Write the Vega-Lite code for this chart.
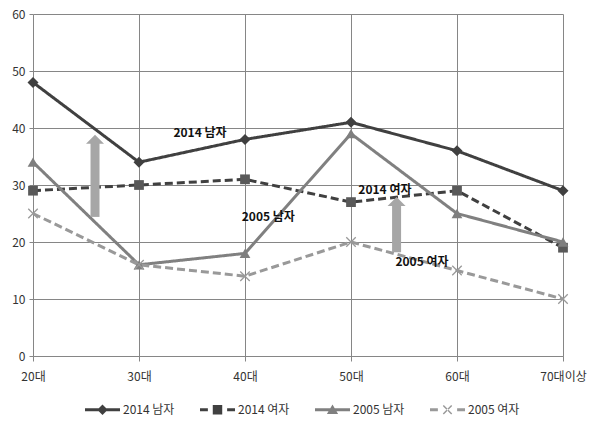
{
  "$schema": "https://vega.github.io/schema/vega-lite/v6.json",
  "width": 530,
  "height": 342,
  "autosize": "none",
  "padding": {"left": 33, "top": 14, "right": 41, "bottom": 74},
  "background": "white",
  "config": {
    "font": "Noto Sans CJK KR",
    "view": {"stroke": null},
    "axis": {
      "gridColor": "#868686",
      "gridWidth": 1,
      "gridOpacity": 1,
      "domainColor": "#868686",
      "tickColor": "#868686",
      "labelColor": "#333333",
      "labelFontSize": 12,
      "labelFlush": false,
      "title": null
    }
  },
  "datasets": {
    "main": [
      {"i": 0, "series": "2014 남자", "v": 48},
      {"i": 1, "series": "2014 남자", "v": 34},
      {"i": 2, "series": "2014 남자", "v": 38},
      {"i": 3, "series": "2014 남자", "v": 41},
      {"i": 4, "series": "2014 남자", "v": 36},
      {"i": 5, "series": "2014 남자", "v": 29},
      {"i": 0, "series": "2014 여자", "v": 29},
      {"i": 1, "series": "2014 여자", "v": 30},
      {"i": 2, "series": "2014 여자", "v": 31},
      {"i": 3, "series": "2014 여자", "v": 27},
      {"i": 4, "series": "2014 여자", "v": 29},
      {"i": 5, "series": "2014 여자", "v": 19},
      {"i": 0, "series": "2005 남자", "v": 34},
      {"i": 1, "series": "2005 남자", "v": 16},
      {"i": 2, "series": "2005 남자", "v": 18},
      {"i": 3, "series": "2005 남자", "v": 39},
      {"i": 4, "series": "2005 남자", "v": 25},
      {"i": 5, "series": "2005 남자", "v": 20},
      {"i": 0, "series": "2005 여자", "v": 25},
      {"i": 1, "series": "2005 여자", "v": 16},
      {"i": 2, "series": "2005 여자", "v": 14},
      {"i": 3, "series": "2005 여자", "v": 20},
      {"i": 4, "series": "2005 여자", "v": 15},
      {"i": 5, "series": "2005 여자", "v": 10}
    ],
    "shafts": [
      {"i": 0.585, "v": 37.5, "vb": 24.4},
      {"i": 3.43, "v": 26.6, "vb": 18.2}
    ],
    "heads": [
      {"i": 0.585, "v": 38.8},
      {"i": 3.43, "v": 27.9}
    ],
    "notes": [
      {"i": 1.575, "v": 39.1, "label": "2014 남자"},
      {"i": 3.32, "v": 29.1, "label": "2014 여자"},
      {"i": 2.22, "v": 24.4, "label": "2005 남자"},
      {"i": 3.67, "v": 16.5, "label": "2005 여자"}
    ]
  },
  "encoding": {
    "x": {
      "field": "i",
      "type": "quantitative",
      "scale": {"domain": [0, 5], "nice": false, "zero": false},
      "axis": {
        "values": [0, 1, 2, 3, 4, 5],
        "labelExpr": "['20대','30대','40대','50대','60대','70대이상'][datum.value]",
        "labelColor": "#333333",
        "tickSize": 5,
        "labelPadding": 10,
        "grid": true
      }
    },
    "y": {
      "field": "v",
      "type": "quantitative",
      "scale": {"domain": [0, 60], "nice": false},
      "axis": {
        "values": [0, 10, 20, 30, 40, 50, 60],
        "labelColor": "#333333",
        "tickSize": 4,
        "labelPadding": 4,
        "domain": false,
        "grid": true
      }
    }
  },
  "layer": [
    {
      "data": {"name": "main"},
      "mark": {"type": "line", "strokeWidth": 3},
      "encoding": {
        "color": {
          "field": "series",
          "type": "nominal",
          "scale": {
            "domain": ["2014 남자", "2014 여자", "2005 남자", "2005 여자"],
            "range": ["#404040", "#404040", "#808080", "#999999"]
          },
          "legend": {
            "title": null,
            "orient": "none",
            "legendX": 52,
            "legendY": 378,
            "direction": "horizontal",
            "columns": 4,
            "columnPadding": 25,
            "symbolSize": 1225,
            "labelFontSize": 12,
            "labelColor": "#333333",
            "labelOffset": 3,
            "encode": {
              "symbols": {
                "update": {
                  "shape": {"signal": "datum.value === '2014 남자' ? 'M-1,-0.08L1,-0.08L1,0.08L-1,0.08ZM0,-0.3L0.3,0L0,0.3L-0.3,0Z' : datum.value === '2014 여자' ? 'M-1,-0.08L-0.55,-0.08L-0.55,0.08L-1,0.08ZM0.55,-0.08L1,-0.08L1,0.08L0.55,0.08ZM-0.27,-0.27L0.27,-0.27L0.27,0.27L-0.27,0.27Z' : datum.value === '2005 남자' ? 'M-1,-0.08L1,-0.08L1,0.08L-1,0.08ZM0,-0.3L0.32,0.24L-0.32,0.24Z' : 'M-1,-0.08L-0.55,-0.08L-0.55,0.08L-1,0.08ZM0.55,-0.08L1,-0.08L1,0.08L0.55,0.08ZM-0.27,-0.21L-0.21,-0.27L0.27,0.21L0.21,0.27ZM-0.27,0.21L-0.21,0.27L0.27,-0.21L0.21,-0.27Z'"},
                  "fill": {"signal": "datum.value === '2005 남자' ? '#808080' : datum.value === '2005 여자' ? '#999999' : '#404040'"},
                  "stroke": {"value": "transparent"},
                  "strokeWidth": {"value": 0},
                  "opacity": {"value": 1}
                }
              }
            }
          }
        },
        "strokeDash": {
          "field": "series",
          "type": "nominal",
          "scale": {
            "domain": ["2014 남자", "2014 여자", "2005 남자", "2005 여자"],
            "range": [[1, 0], [8, 4], [1, 0], [8, 4]]
          },
          "legend": null
        }
      }
    },
    {
      "data": {"name": "main"},
      "transform": [{"filter": "datum.series === '2014 남자'"}],
      "mark": {"type": "point", "shape": "diamond", "size": 121, "filled": true, "color": "#404040", "opacity": 1}
    },
    {
      "data": {"name": "main"},
      "transform": [{"filter": "datum.series === '2014 여자'"}],
      "mark": {"type": "point", "shape": "square", "size": 95, "filled": true, "color": "#595959", "opacity": 1}
    },
    {
      "data": {"name": "main"},
      "transform": [{"filter": "datum.series === '2005 남자'"}],
      "mark": {"type": "point", "shape": "triangle-up", "size": 115, "filled": true, "color": "#7f7f7f", "opacity": 1}
    },
    {
      "data": {"name": "main"},
      "transform": [{"filter": "datum.series === '2005 여자'"}],
      "mark": {"type": "point", "shape": "M-1,-1L1,1M-1,1L1,-1", "size": 90, "filled": false, "color": "#999999", "strokeWidth": 1.3, "opacity": 1}
    },
    {
      "data": {"name": "shafts"},
      "mark": {"type": "rule", "strokeWidth": 9, "color": "#a6a6a6"},
      "encoding": {
        "y2": {"field": "vb"}
      }
    },
    {
      "data": {"name": "heads"},
      "mark": {"type": "point", "shape": "M0,0L1,1L-1,1Z", "size": 324, "filled": true, "color": "#a6a6a6", "opacity": 1}
    },
    {
      "data": {"name": "notes"},
      "mark": {"type": "text", "fontSize": 12, "fontWeight": "bold", "color": "#111111", "align": "center", "baseline": "middle"},
      "encoding": {
        "text": {"field": "label"}
      }
    }
  ]
}
